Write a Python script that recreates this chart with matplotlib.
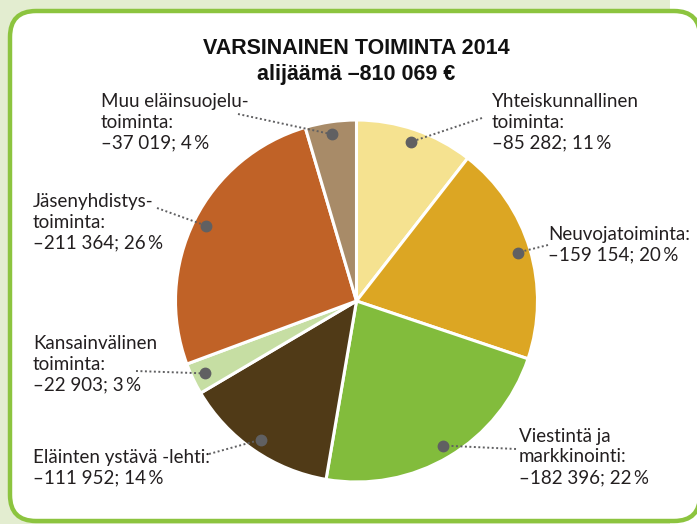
import numpy as np
import matplotlib
matplotlib.use("Agg")
import matplotlib.pyplot as plt
from matplotlib.patches import FancyBboxPatch, Rectangle

# data (euros, share of total deficit)
names = [
    ["Yhteiskunnallinen", "toiminta:"],
    ["Neuvojatoiminta:"],
    ["Viestintä ja", "markkinointi:"],
    ["Eläinten ystävä -lehti:"],
    ["Kansainvälinen", "toiminta:"],
    ["Jäsenyhdistys-", "toiminta:"],
    ["Muu eläinsuojelu-", "toiminta:"],
]
values = [85282, 159154, 182396, 111952, 22903, 211364, 37019]
percents = [11, 20, 22, 14, 3, 26, 4]
colors = ["#f5e290", "#dca623", "#82bc3c", "#503a17", "#c6dea3", "#c06227", "#a88b68"]

title_lines = ["VARSINAINEN TOIMINTA 2014", "alijäämä \u2013810 069 \u20ac"]

# label layout in pixels: text x, first baseline y, leader line end
label_pos = [(492, 107), (548, 240), (519, 442), (33, 463), (33, 349), (33, 207), (101, 107)]
leader_end = [(482, 118), (548, 245), (516, 449), (209, 454), (136, 371), (157, 208), (238, 114)]

W, H = 697, 524
text_col = "#231f20"
label_font = ["Lato", "DejaVu Sans"]
title_font = ["Liberation Sans Narrow", "Liberation Sans", "DejaVu Sans"]

fig = plt.figure(figsize=(W / 100, H / 100), dpi=100)
ax = fig.add_axes([0, 0, 1, 1])

# pie, clockwise from 12 o'clock (y axis is flipped below)
cx, cy, R = 356.5, 301, 181
wedges, _ = ax.pie(values, colors=colors, center=(cx, cy), radius=R,
                   startangle=-90, counterclock=True,
                   wedgeprops=dict(edgecolor="white", linewidth=2.2))
for w in wedges:
    w.set_zorder(3)

ax.set_xlim(0, W)
ax.set_ylim(H, 0)
ax.set_aspect("auto")
ax.axis("off")

# background: pale green page and rounded white box
ax.add_patch(Rectangle((0, 0), 670, H, facecolor="#e3edd0", edgecolor="none", zorder=0))
ax.add_patch(FancyBboxPatch((10, 11), 690, 510, boxstyle="round,pad=0,rounding_size=26",
                            facecolor="white", edgecolor="#8cc43f", linewidth=3.2, zorder=1))

# title
ax.text(cx, 54, title_lines[0], ha="center", va="baseline", fontsize=15.5,
        fontweight="bold", family=title_font, color="#111111", zorder=5)
ax.text(cx, 80, title_lines[1], ha="center", va="baseline", fontsize=15.5,
        fontweight="bold", family=title_font, color="#111111", zorder=5)

# labels with dotted leaders to a marker inside each slice
for i, w in enumerate(wedges):
    mid = np.deg2rad((w.theta1 + w.theta2) / 2)
    dx = cx + 0.93 * R * np.cos(mid)
    dy = cy + 0.93 * R * np.sin(mid)
    ex, ey = leader_end[i]
    ax.plot([ex, dx], [ey, dy], color="#606062", lw=1.4, linestyle=(0, (1, 1.3)), zorder=4)
    ax.plot(dx, dy, "o", color="#606062", markersize=7.5, zorder=5)

    num = "\u2013" + "{:,}".format(values[i]).replace(",", " ") + "; " + str(percents[i]) + "\u2009%"
    lines = names[i] + [num]
    tx, ty = label_pos[i]
    for j, line in enumerate(lines):
        ax.text(tx, ty + j * 20.5, line, ha="left", va="baseline", fontsize=13.5,
                family=label_font, color=text_col, zorder=5)

fig.savefig("out.png", dpi=100)
